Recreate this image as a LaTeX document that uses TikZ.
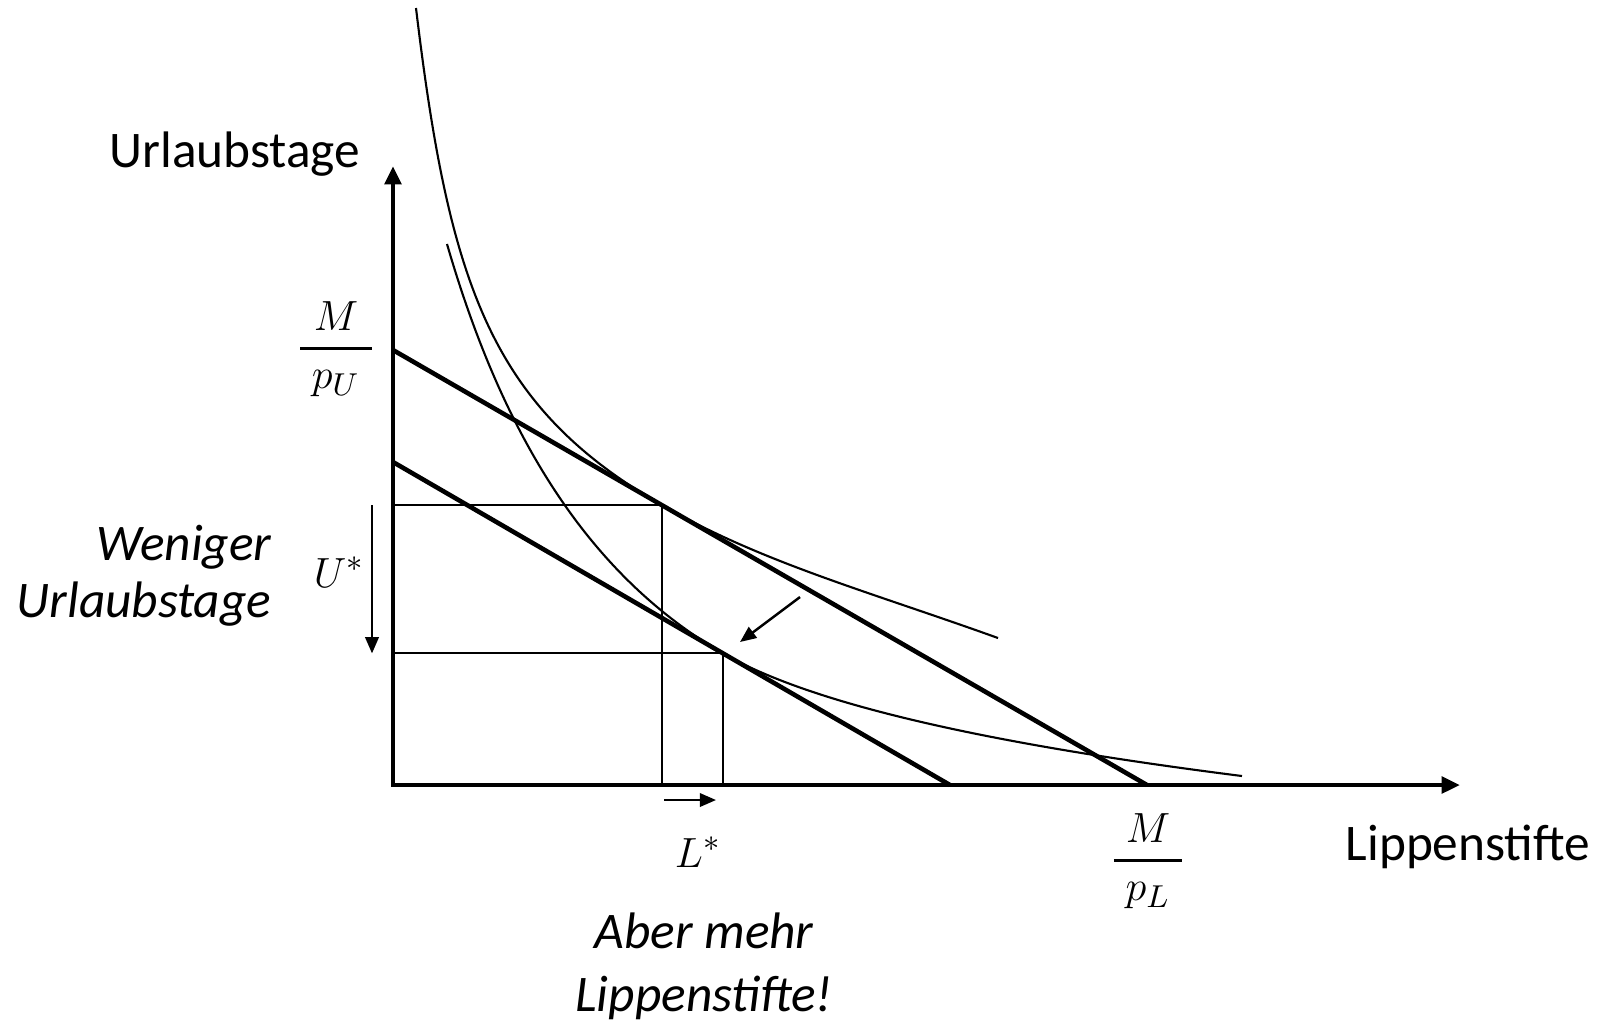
\documentclass[tikz,border=0pt]{standalone}
\usepackage{fontspec}
\setmainfont{Carlito}
\usepackage{amsmath}
\usetikzlibrary{arrows.meta,calc}
\definecolor{ink}{RGB}{0,0,0}
\newcommand{\budgetfrac}[2]{\genfrac{}{}{0.8pt}{0}{#1}{\;#2\;}}
\tikzset{
    % Axes
    axis/.style={
        draw=ink,
        line width=1.4pt,
        line join=miter,
        >={Triangle[length=5.2pt,width=4.6pt]},
        <->
    },
    % Budget lines
    budget/.style={
        draw=ink,
        line width=1.3pt
    },
    % Indifference curves
    indiff/.style={
        draw=ink,
        line width=0.6pt
    },
    guide/.style={
        draw=ink,
        line width=0.6pt
    },
    % Arrows
    shiftarrow/.style={
        -{Triangle[length=4.6pt,width=3.8pt]},
        line width=0.7pt,
        draw=ink
    },
    % Labels
    axislabel/.style={
        font=\fontsize{14.6}{17.5}\selectfont,
        inner sep=0pt
    },
    mathlabel/.style={
        font=\fontsize{13}{15.6}\selectfont,
        inner sep=0pt
    },
    fraclabel/.style={
        font=\fontsize{12.5}{15}\selectfont,
        inner sep=0pt
    },
    annotation/.style={
        font=\fontsize{14.6}{#1}\selectfont\itshape,
        inner sep=0pt
    },
    annotation/.default=16.2
}

\begin{document}
\begin{tikzpicture}[x=0.01cm, y=-0.01cm]
    \useasboundingbox (0,0) rectangle (1610,1020);

    % Key points
    \coordinate (O) at (393,785);
    \coordinate (ytip) at (393,166);
    \coordinate (xtip) at (1460,785);
    \coordinate (B1u) at (393,350);
    \coordinate (B1l) at (1147,785);
    \coordinate (B2u) at (393,462);
    \coordinate (B2l) at (950,785);
    \path (B1u) -- (B1l) coordinate[pos=0.357] (E1);
    \path (B2u) -- (B2l) coordinate[pos=0.5925] (E2);

    % Guide lines
    \draw[guide] (E1 -| O) -- (E1) -- (E1 |- O);
    \draw[guide] (E2 -| O) -- (E2) -- (E2 |- O);

    % Indifference curves
    \draw[indiff] (416,8) .. controls (449.5,288) and (492,407) .. (E1)
        .. controls (762,562.7) and (868,591.2) .. (998,638);
    \draw[indiff] (447,244) .. controls (505,444) and (593,577.6) .. (E2)
        .. controls (813,705.2) and (992,744.3) .. (1242,776);

    % Budget lines
    \draw[budget] (B1u) -- (B1l);
    \draw[budget] (B2u) -- (B2l);

    % Axes
    \draw[axis] (ytip) -- (O) -- (xtip);

    % Axis labels
    \node[axislabel, anchor=base east] (ylab) at (361,167) {Urlaubstage};
    \node[axislabel, anchor=base west] (xlab) at (1345,860) {Lippenstifte};
    \node[fraclabel] (MpU) at (336,349) {$\budgetfrac{M}{p_U}$};
    \node[fraclabel] (MpL) at (1148,861) {$\budgetfrac{M}{p_L}$};
    \node[mathlabel, anchor=base] (Ustar) at (339,587) {$U^*$};
    \node[mathlabel, anchor=base] (Lstar) at (698,867) {$L^*$};

    % Shift arrows
    \coordinate (shiftfrom) at (800,597);
    \coordinate (shiftto) at (740,642);
    \draw[shiftarrow] (shiftfrom) -- (shiftto);
    \draw[shiftarrow] ($(E1 -| O)+(-21,0)$) -- ($(E2 -| O)+(-21,0)$);
    \draw[shiftarrow] ($(E1 |- O)+(2,15)$) -- ($(E2 |- O)+(-7,15)$);

    % Annotations
    \node[annotation, align=right, anchor=base east] (fewer) at (272,617) {Weniger\\Urlaubstage};
    \node[annotation=17.9, align=center, anchor=base] (more) at (704,1011) {Aber mehr\\Lippenstifte!};

\end{tikzpicture}
\end{document}
